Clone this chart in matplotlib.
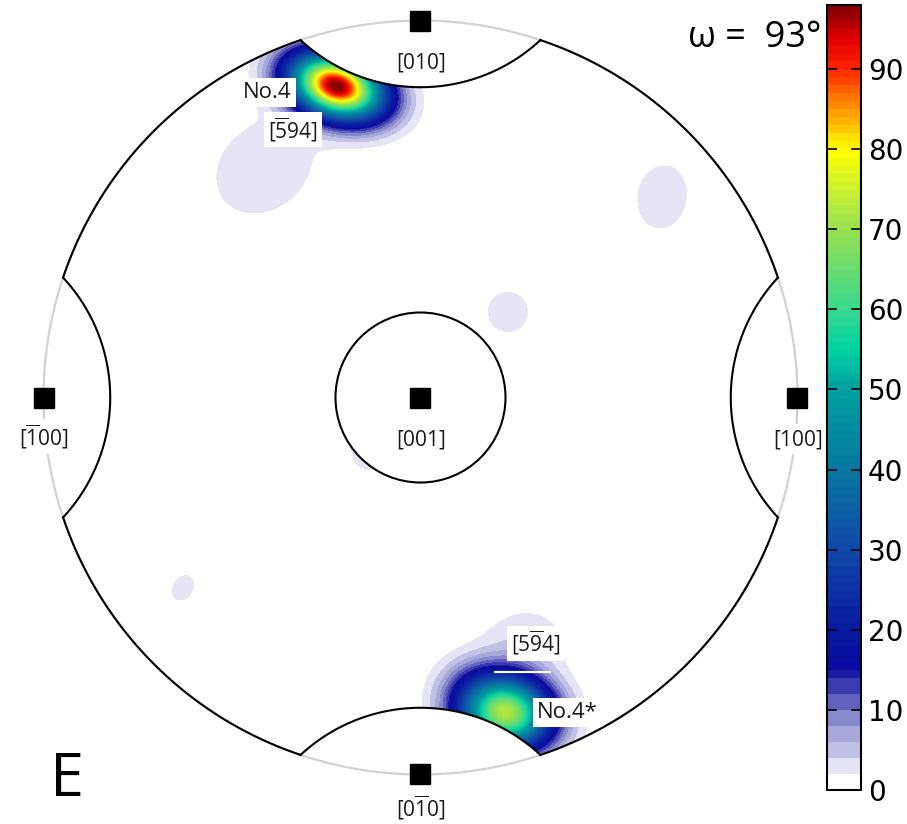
import numpy as np
import matplotlib
matplotlib.use('Agg')
import matplotlib.pyplot as plt
from matplotlib.colors import LinearSegmentedColormap
from matplotlib.patches import Circle

plt.rcParams['mathtext.fontset'] = 'custom'
plt.rcParams['mathtext.rm'] = 'Open Sans'

# pole figure geometry, primitive circle has radius 1
inner_r = 0.2255          # circle round [001]
cut_d, cut_r = 1.29, 0.467  # circles round the four in-plane poles

# poles and their labels
pole_x = [0, -1, 1, 0, 0]
pole_y = [1, 0, 0, -1, 0]
pole_labels = [r'$\mathrm{[010]}$', r'$\mathrm{[\overline{1}00]}$', r'$\mathrm{[100]}$',
               r'$\mathrm{[0\overline{1}0]}$', r'$\mathrm{[001]}$']
label_drop = [0.126, 0.126, 0.126, 0.112, 0.126]

# density blobs: centre, peak value, widths, tilt
blob_x = [-0.222, -0.415, 0.641, 0.232, -0.630, -0.129, 0.225, 0.275, 0.130]
blob_y = [0.826, 0.610, 0.532, 0.227, -0.505, -0.139, -0.835, -0.650, -0.750]
blob_amp = [98, 3.6, 3.5, 3.4, 3.2, 3.5, 72, 3.6, 3.2]
blob_sa = [0.085, 0.125, 0.078, 0.050, 0.035, 0.050, 0.082, 0.085, 0.060]
blob_sc = [0.054, 0.100, 0.060, 0.050, 0.026, 0.050, 0.064, 0.070, 0.050]
blob_ang = [-18, 40, 80, 0, 60, 0, -10, 10, 0]

# colour scale
cmap_vals = [0, 1.6, 3, 8, 12, 15, 20, 30, 40, 50, 55, 60, 70, 75, 80, 85, 90, 94, 98]
cmap_cols = ['#ffffff', '#ffffff', '#dcdcf2', '#9898d4', '#4a4ab4', '#0a0aa0', '#0a1aa0',
             '#1048a8', '#0878a0', '#00a0a0', '#00d2a0', '#38d890', '#98e050', '#c8f030',
             '#ffff00', '#ff9800', '#ff2800', '#e00000', '#800000']
vmax = 98
cb_ticks = [0, 10, 20, 30, 40, 50, 60, 70, 80, 90]

cmap = LinearSegmentedColormap.from_list(
    'pf', [(v / vmax, c) for v, c in zip(cmap_vals, cmap_cols)], N=256)

fig = plt.figure(figsize=(9.07, 8.24), dpi=100)
ax = fig.add_axes([0, 0, 1, 1])
ax.set_xlim(-1.1154, 1.2905)
ax.set_ylim(-1.1313, 1.0544)
ax.set_aspect('equal')
ax.axis('off')

# density field, kept to the region between the cut-outs
g = np.linspace(-1, 1, 900)
X, Y = np.meshgrid(g, g)
Z = np.zeros_like(X)
for x0, y0, a, sa, sc, ang in zip(blob_x, blob_y, blob_amp, blob_sa, blob_sc, blob_ang):
    th = np.deg2rad(ang)
    u = (X - x0) * np.cos(th) + (Y - y0) * np.sin(th)
    v = -(X - x0) * np.sin(th) + (Y - y0) * np.cos(th)
    Z += a * np.exp(-0.5 * ((u / sa) ** 2 + (v / sc) ** 2))
Z = np.clip(Z, 0, vmax - 0.01)

inside = (np.hypot(X, Y) <= 1) & (np.hypot(X, Y) >= inner_r)
phis = np.deg2rad([0, 90, 180, 270])
for phi in phis:
    inside &= np.hypot(X - cut_d * np.cos(phi), Y - cut_d * np.sin(phi)) >= cut_r
Z = np.ma.masked_where(~inside, Z)

levels = np.concatenate([np.arange(0, 15, 2), np.arange(15, vmax + 1, 1)])
cs = ax.contourf(X, Y, Z, levels=levels, cmap=cmap, vmin=0, vmax=vmax, zorder=1)

# primitive circle: grey inside the cut-outs, black between them
t = np.linspace(0, 2 * np.pi, 721)
ax.plot(np.cos(t), np.sin(t), color='#d2d2d2', lw=1.6, zorder=2)
hw = np.arccos((1 + cut_d ** 2 - cut_r ** 2) / (2 * cut_d))
for k in range(4):
    a0 = np.pi / 4 + k * np.pi / 2
    s = np.linspace(a0 - (np.pi / 4 - hw), a0 + (np.pi / 4 - hw), 200)
    ax.plot(np.cos(s), np.sin(s), color='black', lw=1.5, zorder=3)

beta = np.arctan2(np.sin(hw), cut_d - np.cos(hw))
for phi in phis:
    cx, cy = cut_d * np.cos(phi), cut_d * np.sin(phi)
    s = np.linspace(phi + np.pi - beta, phi + np.pi + beta, 200)
    ax.plot(cx + cut_r * np.cos(s), cy + cut_r * np.sin(s), color='black', lw=1.5, zorder=3)

ax.add_patch(Circle((0, 0), inner_r, fill=False, ec='black', lw=1.5, zorder=3))

# poles
ax.plot(pole_x, pole_y, 's', color='black', ms=14, zorder=5)
lab_font = ['Open Sans', 'DejaVu Sans']
box = dict(boxstyle='square,pad=0.18', fc='white', ec='none')
for x, y, lab, d in zip(pole_x, pole_y, pole_labels, label_drop):
    ax.text(x, y - d, lab, ha='center', va='baseline', fontsize=15,
            color='#1a1a1a', bbox=box, zorder=6)

# variant labels
ax.plot([0.197, 0.343], [-0.727, -0.727], color='white', lw=1.5, zorder=4)
ax.text(-0.406, 0.794, 'No.4', ha='center', va='baseline', fontsize=16,
        family=lab_font, color='#1a1a1a', bbox=box, zorder=6)
ax.text(-0.338, 0.688, r'$\mathrm{[\overline{5}94]}$', ha='center', va='baseline',
        fontsize=15, color='#1a1a1a', bbox=box, zorder=6)
ax.text(0.305, -0.675, r'$\mathrm{[5\overline{9}4]}$', ha='center', va='baseline',
        fontsize=15, color='#1a1a1a', bbox=box, zorder=6)
ax.text(0.390, -0.850, 'No.4*', ha='center', va='baseline', fontsize=16,
        family=lab_font, color='#1a1a1a', bbox=box, zorder=6)

fig.text(50 / 907, 1 - 780 / 824, 'E', ha='left', va='center', fontsize=44,
         family=lab_font, color='black')
fig.text(821 / 907, 1 - 38 / 824, '\u03c9 =  93\u00b0', ha='right', va='center',
         fontsize=26, family=lab_font, color='black')

# colour bar
cax = fig.add_axes([827 / 907, 34 / 824, 34 / 907, 785 / 824])
cb = fig.colorbar(cs, cax=cax, ticks=cb_ticks, spacing='proportional')
cb.outline.set_linewidth(1.5)
cb.outline.set_edgecolor('black')
cax.tick_params(axis='y', direction='in', left=True, right=True, length=7,
                width=1.2, labelsize=20, pad=5)
for lab in cax.get_yticklabels():
    lab.set_family('DejaVu Sans')

plt.savefig('out.png', dpi=100, facecolor='white')
plt.close()
